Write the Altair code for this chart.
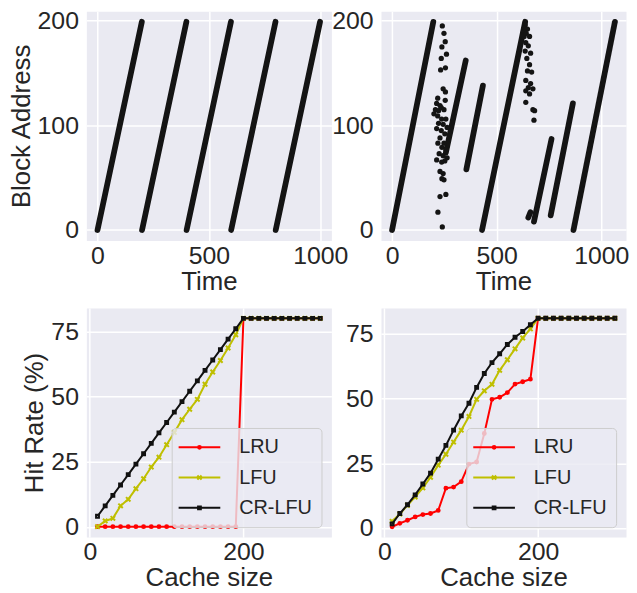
import altair as alt
import pandas as pd

FONT = "Liberation Sans"
TXT = "#262626"
DOT = "#141414"

# ---------------- top-left: trace 1 (sweep segments) ----------------
tl_t0 = [0, 200, 400, 600, 800]
tl_a0 = [0, 0, 0, 0, 0]
tl_t1 = [199, 399, 599, 799, 999]
tl_a1 = [199, 199, 199, 199, 199]

# ---------------- top-right: trace 2 ----------------
tr_t0 = [0, 257, 355, 430, 651, 678, 758, 867]
tr_a0 = [0, 74, 58, 0, 12, 8, 14, 0]
tr_t1 = [197, 352, 434, 636, 661, 762, 864, 1065]
tr_a1 = [199, 162, 138, 199, 17, 87, 121, 199]

tr_pt_t = [240, 248, 254, 238, 260, 235, 255, 232, 244, 255, 218, 254, 213, 229,
           207, 222, 235, 248, 200, 218, 237, 257, 222, 244, 263, 213, 235, 252,
           229, 248, 219, 238, 257, 225, 244, 263, 213, 237, 252, 229, 244, 238,
           248, 257, 229, 219, 240,
           636, 647, 631, 657, 639, 651, 636, 662, 644, 657, 647, 667, 639, 662,
           651, 673, 639, 657, 639, 673, 681, 678, 628, 632, 641]
tr_pt_a = [195, 188, 180, 175, 168, 164, 155, 153, 135, 132, 126, 124, 121, 119,
           115, 114, 117, 115, 111, 109, 106, 106, 102, 101, 98, 97, 95, 92,
           88, 83, 83, 79, 77, 73, 71, 69, 67, 65, 66, 56, 54, 49,
           48, 34, 32, 17, 3,
           196, 192, 185, 185, 179, 176, 171, 169, 164, 158, 152, 151, 143, 140,
           136, 135, 133, 130, 122, 115, 114, 105, 190, 193, 188]

# ---------------- bottom: hit rates ----------------
cache_sizes = [10, 20, 30, 40, 50, 60, 70, 80, 90, 100, 110, 120, 130, 140, 150,
               160, 170, 180, 190, 200, 210, 220, 230, 240, 250, 260, 270, 280, 290, 300]

bl_lru = [0, 0, 0, 0, 0, 0, 0, 0, 0, 0, 0, 0, 0, 0, 0, 0, 0, 0, 0, 80,
          80, 80, 80, 80, 80, 80, 80, 80, 80, 80]
bl_lfu = [0, 2.2, 3.2, 8.0, 10.5, 14.6, 18.4, 22.9, 26.7, 31.5, 36.2, 41.1, 45.1, 48.9,
          54.7, 59.4, 63.8, 68.6, 73.7, 80, 80, 80, 80, 80, 80, 80, 80, 80, 80, 80]
bl_crlfu = [4, 8, 12, 16, 20, 24, 28, 32, 36, 40, 44, 48, 52, 56, 60, 64, 68, 72, 76, 80,
            80, 80, 80, 80, 80, 80, 80, 80, 80, 80]

br_lru = [0.5, 1.8, 3.0, 4.3, 5.2, 5.6, 6.8, 15.4, 15.8, 17.9, 24.7, 25.5, 36.5, 49.7,
          50.5, 52.3, 55.6, 56.5, 57.5, 81, 81, 81, 81, 81, 81, 81, 81, 81, 81, 81]
br_lfu = [2.6, 5.4, 8.8, 12.0, 15.5, 19.6, 24.3, 28.5, 33.2, 37.8, 43.1, 49.7, 53.0, 55.5,
          60.9, 65.0, 69.2, 73.4, 76.9, 81, 81, 81, 81, 81, 81, 81, 81, 81, 81, 81]
br_crlfu = [1.6, 5.6, 9.0, 12.8, 17.0, 21.2, 26.6, 31.9, 37.8, 43.3, 48.2, 54.3, 59.7, 63.9,
            67.3, 70.9, 73.7, 75.9, 78.5, 81, 81, 81, 81, 81, 81, 81, 81, 81, 81, 81]

series_names = ["LRU", "LFU", "CR-LFU"]
series_colors = ["#ff0000", "#bfbf00", "#111111"]
marker_paths = [
    "M0.65,0A0.65,0.65 0 1,1 -0.65,0A0.65,0.65 0 1,1 0.65,0Z",
    "M-1,-1L1,1M1,-1L-1,1",
    "M-0.65,-0.65H0.65V0.65H-0.65Z",
]
legend_paths = [
    "M-4.2,0H4.2M0.28,0A0.28,0.28 0 1,1 -0.28,0A0.28,0.28 0 1,1 0.28,0Z",
    "M-4.2,0H4.2M-0.42,-0.42L0.42,0.42M0.42,-0.42L-0.42,0.42",
    "M-4.2,0H4.2M-0.28,-0.28H0.28V0.28H-0.28Z",
]

W, H = 247, 231


def seg_df(t0, a0, t1, a1):
    return pd.DataFrame({"t0": t0, "a0": a0, "t1": t1, "a1": a1})


def trace_panel(segs, pts, xdom, ytitle):
    xs = alt.Scale(domain=xdom, nice=False, zero=False)
    ys = alt.Scale(domain=[-10, 209], nice=False, zero=False)
    xax = alt.Axis(values=[0, 500, 1000], title="Time", format="d")
    yax = alt.Axis(values=[0, 100, 200], title=ytitle, format="d")
    rules = alt.Chart(segs).mark_rule(strokeWidth=5.8, strokeCap="round", color=DOT).encode(
        x=alt.X("t0:Q", scale=xs, axis=xax),
        x2="t1:Q",
        y=alt.Y("a0:Q", scale=ys, axis=yax),
        y2="a1:Q",
    )
    layers = [rules]
    if pts is not None:
        layers.append(
            alt.Chart(pts).mark_circle(size=28, color=DOT, opacity=1).encode(
                x=alt.X("t:Q", scale=xs, axis=xax),
                y=alt.Y("a:Q", scale=ys, axis=yax),
            )
        )
    return alt.layer(*layers).properties(width=W, height=H)


def hit_panel(lru, lfu, crlfu, ydom, ytitle):
    rows = []
    for name, vals in zip(series_names, [lru, lfu, crlfu]):
        for c, v in zip(cache_sizes, vals):
            rows.append({"size": c, "rate": v, "series": name})
    df = pd.DataFrame(rows)
    xs = alt.Scale(domain=[-4.5, 314.5], nice=False, zero=False)
    ys = alt.Scale(domain=ydom, nice=False, zero=False)
    xax = alt.Axis(values=[0, 200], title="Cache size", format="d")
    yax = alt.Axis(values=[0, 25, 50, 75], title=ytitle, format="d")
    cs = alt.Scale(domain=series_names, range=series_colors)
    layers = []
    for name, col, path in zip(series_names, series_colors, marker_paths):
        base = alt.Chart(df).transform_filter(alt.datum.series == name)
        layers.append(base.mark_line(strokeWidth=2, color=col).encode(
            x=alt.X("size:Q", scale=xs, axis=xax),
            y=alt.Y("rate:Q", scale=ys, axis=yax),
        ))
        layers.append(base.mark_point(filled=False, strokeWidth=2, size=20, shape=path,
                                      opacity=1, color=col).encode(
            x=alt.X("size:Q", scale=xs, axis=xax),
            y=alt.Y("rate:Q", scale=ys, axis=yax),
        ))
    leg = alt.Legend(
        title=None, orient="bottom-right", offset=10, zindex=1,
        fillColor="rgba(234,234,242,0.8)", strokeColor="#cccccc", cornerRadius=4,
        padding=9.5, labelFontSize=20, labelFont=FONT, labelColor=TXT,
        symbolSize=100, symbolStrokeWidth=2, symbolOpacity=1,
        rowPadding=10.5, symbolOffset=8.5, labelOffset=30,
    )
    layers.append(alt.Chart(df).mark_point(filled=False, strokeWidth=2, opacity=0).encode(
        x=alt.X("size:Q", scale=xs, axis=xax),
        y=alt.Y("rate:Q", scale=ys, axis=yax),
        color=alt.Color("series:N", scale=cs, legend=leg),
        shape=alt.Shape("series:N", scale=alt.Scale(domain=series_names, range=legend_paths), legend=leg),
    ))
    return alt.layer(*layers).properties(width=W, height=H)


tl = trace_panel(seg_df(tl_t0, tl_a0, tl_t1, tl_a1), None, [-50, 1050], "Block Address")
tr = trace_panel(seg_df(tr_t0, tr_a0, tr_t1, tr_a1),
                 pd.DataFrame({"t": tr_pt_t, "a": tr_pt_a}), [-53, 1118], "")
bl = hit_panel(bl_lru, bl_lfu, bl_crlfu, [-4, 84], "Hit Rate (%)")
br = hit_panel(br_lru, br_lfu, br_crlfu, [-3.5, 85], "")

chart = alt.concat(
    tl, tr, bl, br, columns=2, spacing={"row": 68, "column": 50}, bounds="flush"
).resolve_scale(
    x="independent", y="independent", color="independent", shape="independent"
).resolve_legend(
    color="independent", shape="independent"
).properties(
    padding={"left": 0, "top": -2, "right": 0, "bottom": 0}
).configure(
    font=FONT
).configure_view(
    fill="#EAEAF2", strokeOpacity=0
).configure_axis(
    domain=False, ticks=False, tickSize=0, grid=True, gridColor="white", gridWidth=1.5,
    labelFont=FONT, titleFont=FONT, labelFontSize=25, titleFontSize=26,
    labelColor=TXT, titleColor=TXT, titleFontWeight="normal",
).configure_axisX(
    labelPadding=3, titlePadding=0
).configure_axisY(
    labelPadding=8, titlePadding=3
)

chart.save("out.html", embed_options={"renderer": "svg", "actions": False})
